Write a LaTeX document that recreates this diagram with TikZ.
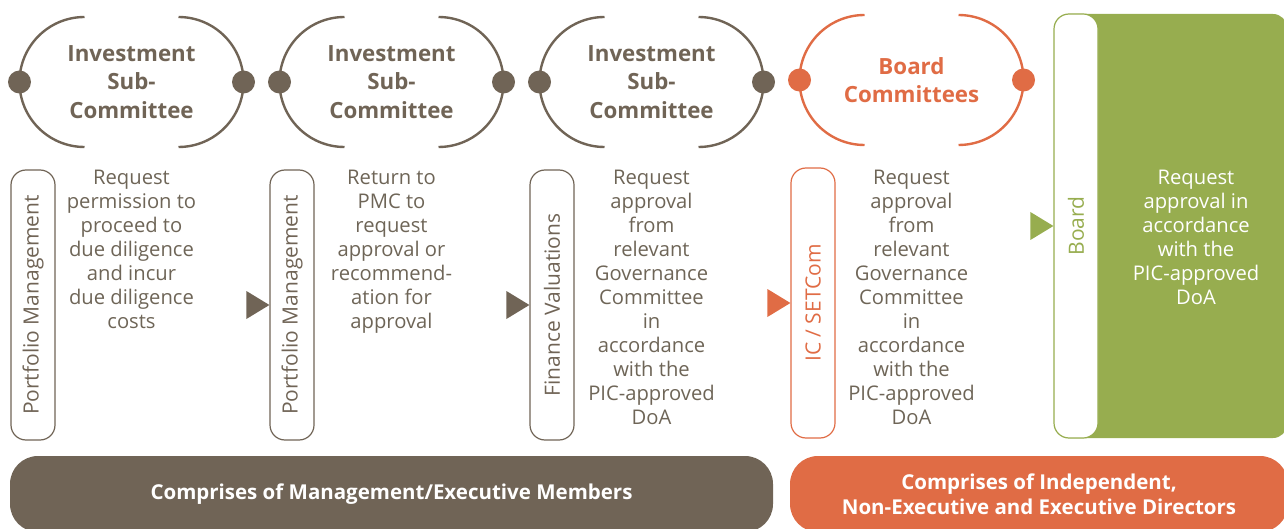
\documentclass[tikz,border=0pt]{standalone}
\usepackage{fontspec}
\setmainfont{Open Sans}
\usetikzlibrary{positioning,calc}
\definecolor{brownc}{HTML}{706456}
\definecolor{orangec}{HTML}{E06C45}
\definecolor{greenc}{HTML}{97AD4F}
\definecolor{textc}{HTML}{6E6557}
\tikzset{
  heading/.style={font=\bfseries\fontsize{22.3}{28.5}\selectfont, align=center, text=brownc, inner sep=0pt},
  ring/.style={draw=brownc, line width=2.4pt},
  rolepill/.style={draw=#1, text=#1, line width=1.2pt, rounded corners=15pt,
    minimum width=270pt, minimum height=44pt, inner sep=0pt,
    font=\fontsize{21}{24}\selectfont},
  stepnote/.style={font=\fontsize{20.2}{24}\selectfont, align=center, text=textc, inner sep=0pt, anchor=north},
  groupbar/.style={rounded corners=28pt, minimum height=76pt, inner sep=0pt, text=white,
    font=\bfseries\fontsize{20.5}{25}\selectfont, align=center}
}
\begin{document}
\begin{tikzpicture}[x=1pt,y=1pt]
\useasboundingbox (0,0) rectangle (1284,-529);
\clip (0,0) rectangle (1284,-529);

% committee headings
\foreach \cx/\nm in {131.5/isca,391.5/iscb,651.5/iscc}{
  \node[heading] (\nm) at (\cx,-82) {Investment\\Sub-\\Committee};
  \draw[ring] ($(\nm.center)+(-47,65)$) arc[start angle=90,end angle=270,radius=65];
  \draw[ring] ($(\nm.center)+(47,65)$) arc[start angle=90,end angle=-90,radius=65];
  \fill[brownc] ($(\nm.center)+(-112,0)$) circle[radius=11.5];
  \fill[brownc] ($(\nm.center)+(112,0)$) circle[radius=11.5];
}
\node[heading, text=orangec] (bcom) at (911.5,-80) {Board\\Committees};
\draw[ring, draw=orangec] ($(bcom.center)+(-47,65)$) arc[start angle=90,end angle=270,radius=65];
\draw[ring, draw=orangec] ($(bcom.center)+(47,65)$) arc[start angle=90,end angle=-90,radius=65];
\fill[orangec] ($(bcom.center)+(-112,0)$) circle[radius=11.5];
\fill[orangec] ($(bcom.center)+(112,0)$) circle[radius=11.5];

% board panel
\fill[greenc, rounded corners=14pt] (1054,-14) rectangle (1287,-438);

% role pills
\node[rolepill=brownc, rotate=90] (pma) at (33,-305) {Portfolio Management};
\node[rolepill=brownc, rotate=90] (pmb) at (292,-305) {Portfolio Management};
\node[rolepill=brownc, rotate=90] (fval) at (552,-305) {Finance Valuations};
\node[rolepill=orangec, rotate=90] (icset) at (813,-303) {IC / SETCom};
\node[rolepill=greenc, rotate=90, fill=white, minimum width=424pt] (board) at (1076,-226) {Board};

% arrow heads
\foreach \p/\c in {pmb/brownc,fval/brownc,icset/orangec,board/greenc}
  \fill[\c] ($(\p.north)+(-23,14)$) -- (\p.north) -- ($(\p.north)+(-23,-14)$) -- cycle;

% step notes
\node[stepnote] (txa) at (131.5,-170) {Request\\permission to\\proceed to\\due diligence\\and incur\\due diligence\\costs};
\node[stepnote] (txb) at (391.5,-170) {Return to\\PMC to\\request\\approval or\\recommend-\\ation for\\approval};
\node[stepnote] (txc) at (651.5,-170) {Request\\approval\\from\\relevant\\Governance\\Committee\\in\\accordance\\with the\\PIC-approved\\DoA};
\node[stepnote] (txd) at (911.5,-170) {Request\\approval\\from\\relevant\\Governance\\Committee\\in\\accordance\\with the\\PIC-approved\\DoA};
\node[stepnote, text=white] (txe) at (1196,-170) {Request\\approval in\\accordance\\with the\\PIC-approved\\DoA};

% member groups
\node[groupbar, fill=brownc, minimum width=763pt] (mgmt) at (391.5,-494) {Comprises of Management/Executive Members};
\node[groupbar, fill=orangec, minimum width=498pt] (dirs) at (1039,-494) {Comprises of Independent,\\Non-Executive and Executive Directors};
\end{tikzpicture}
\end{document}
